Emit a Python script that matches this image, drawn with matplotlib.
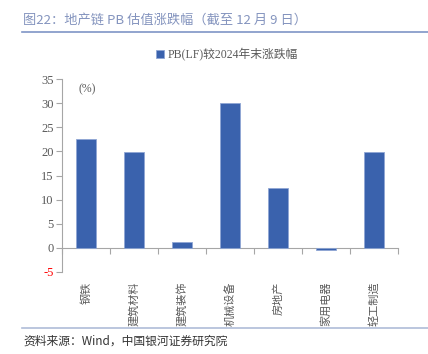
import matplotlib.pyplot as plt
import matplotlib.transforms as mtransforms
import numpy as np

plt.rcParams['font.family'] = ['Noto Sans CJK SC', 'DejaVu Sans']

categories = ["钢铁", "建筑材料", "建筑装饰", "机械设备", "房地产", "家用电器", "轻工制造"]
pb_change = [22.6, 19.8, 1.2, 30.0, 12.5, -0.4, 19.9]
y_ticks = [-5, 0, 5, 10, 15, 20, 25, 30, 35]

BAR = "#3A62AD"
GREY = "#595959"

W, H = 428, 354
fig = plt.figure(figsize=(W / 100, H / 100), dpi=100)

# title and rules
fig.text(23 / W, 1 - 20 / H, "图22：地产链 PB 估值涨跌幅（截至 12 月 9 日）",
         fontsize=9.5, color="#8494BE", va="center", ha="left")
fig.add_artist(plt.Line2D([22 / W, 1], [1 - 32 / H] * 2, color="#7F95C6", lw=1.2))
fig.add_artist(plt.Line2D([22 / W, 1], [1 - 328 / H] * 2, color="#AFBCD8", lw=1.2))
fig.text(23 / W, 1 - 341 / H, "资料来源：Wind，中国银河证券研究院",
         fontsize=8.5, color="#333333", style="italic", va="center", ha="left")

ax = fig.add_axes([62 / W, 1 - 272 / H, (398 - 62) / W, (272 - 79) / H])
x = np.arange(len(categories))
ax.bar(x, pb_change, width=0.4, color=BAR, edgecolor="#8FA6D4", linewidth=0.6,
       label="PB(LF)较2024年末涨跌幅", zorder=3)

ax.set_xlim(-0.5, len(categories) - 0.5)
ax.set_ylim(-5, 35)
ax.set_yticks(y_ticks)
ax.set_yticklabels([str(v) for v in y_ticks], family="Liberation Serif", fontsize=9)
for lab, v in zip(ax.get_yticklabels(), y_ticks):
    lab.set_color("red" if v < 0 else GREY)
ax.tick_params(axis="y", direction="out", length=4, color="#A6A6A6", pad=2)

for s in ["top", "right"]:
    ax.spines[s].set_visible(False)
ax.spines["left"].set_color("#A6A6A6")
ax.spines["bottom"].set_color("#A6A6A6")
ax.spines["bottom"].set_position(("data", 0))
ax.set_xticks(np.arange(len(categories) + 1) - 0.5)
ax.set_xticklabels([])
ax.tick_params(axis="x", direction="out", length=4, color="#A6A6A6")

trans = mtransforms.blended_transform_factory(ax.transData, fig.transFigure)
for xi, name in zip(x, categories):
    ax.text(xi, 1 - 282 / H, name, rotation=90, ha="center", va="top",
            fontsize=8, color=GREY, transform=trans)

ax.text(0.05, 0.98, "(%)", transform=ax.transAxes, fontsize=8.5, color=GREY,
        family="Liberation Serif", va="top")

leg = ax.legend(loc="center", bbox_to_anchor=(0.49, 1.125), frameon=False,
                prop={"family": ["Liberation Serif", "Noto Sans CJK SC"], "size": 8.5},
                handlelength=0.7, handleheight=0.7, handletextpad=0.3)
for t in leg.get_texts():
    t.set_color(GREY)

fig.savefig("out.png", dpi=100)
